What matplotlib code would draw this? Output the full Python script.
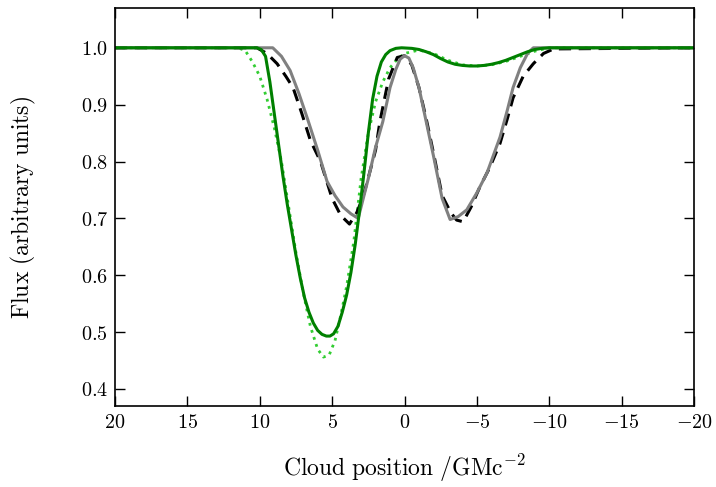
import numpy as np
import matplotlib
matplotlib.use("Agg")
import matplotlib.pyplot as plt
from matplotlib.ticker import FuncFormatter

plt.rcParams['font.family'] = 'serif'
plt.rcParams['mathtext.fontset'] = 'cm'

# solid green curve
x_green = [20, 10.2, 9.9, 9.6, 9.3, 9.0, 8.7, 8.4, 8.1, 7.8, 7.5, 7.2, 6.9, 6.6, 6.3, 6.0,
           5.7, 5.4, 5.15, 4.9, 4.6, 4.3, 4.0, 3.7, 3.4, 3.1, 2.8, 2.5, 2.2, 1.9, 1.6, 1.3,
           1.0, 0.6, 0.2, -0.5, -1.0, -1.5, -2.0, -2.5, -3.0, -3.5, -4.0, -4.5, -5.0, -5.5,
           -6.0, -6.5, -7.0, -7.5, -8.0, -8.5, -9.0, -9.5, -10.0, -20]
y_green = [1.0, 1.0, 0.997, 0.985, 0.94, 0.885, 0.83, 0.775, 0.725, 0.68, 0.635, 0.595,
           0.56, 0.535, 0.516, 0.503, 0.496, 0.493, 0.493, 0.497, 0.51, 0.535, 0.565, 0.605,
           0.655, 0.715, 0.78, 0.85, 0.91, 0.95, 0.975, 0.988, 0.995, 0.999, 1.0, 0.999,
           0.997, 0.993, 0.988, 0.981, 0.975, 0.971, 0.969, 0.968, 0.968, 0.969, 0.971,
           0.974, 0.978, 0.983, 0.988, 0.993, 0.997, 0.999, 1.0, 1.0]

# dotted light green curve
x_dot = [20, 11.5, 11, 10.5, 10, 9.5, 9, 8.5, 8, 7.5, 7, 6.5, 6, 5.6, 5.2, 4.8, 4.4, 4, 3.5,
         3, 2.5, 2, 1.5, 1, 0.5, 0, -1, -2, -3, -4, -5, -6, -7, -8, -9, -10, -20]
y_dot = [1.0, 1.0, 0.995, 0.975, 0.95, 0.91, 0.86, 0.80, 0.72, 0.64, 0.57, 0.51, 0.47, 0.456,
         0.46, 0.485, 0.53, 0.58, 0.66, 0.77, 0.85, 0.905, 0.94, 0.965, 0.98, 0.99, 0.996, 0.99,
         0.978, 0.970, 0.968, 0.970, 0.976, 0.985, 0.994, 1.0, 1.0]

# grey solid curve
x_grey = [20, 9.1, 8.5, 7.9, 7.3, 6.7, 6.0, 5.35, 4.8, 4.25, 3.7, 3.2, 2.85, 2.5, 2.0, 1.5,
          1.0, 0.6, 0.3, 0, -0.3, -0.6, -1.0, -1.5, -2.0, -2.6, -3.15, -3.7, -4.3, -5.0,
          -5.7, -6.6, -7.1, -7.5, -8.0, -8.5, -8.9, -20]
y_grey = [1.0, 1.0, 0.985, 0.96, 0.92, 0.875, 0.82, 0.765, 0.74, 0.72, 0.708, 0.70, 0.735,
          0.77, 0.825, 0.87, 0.93, 0.962, 0.98, 0.986, 0.982, 0.965, 0.93, 0.87, 0.81, 0.735,
          0.698, 0.703, 0.715, 0.745, 0.78, 0.843, 0.89, 0.93, 0.965, 0.99, 1.0, 1.0]

# black dashed curve
x_dash = [20, 10.2, 9.5, 8.8, 8.2, 7.7, 7.1, 6.5, 5.8, 5.0, 4.4, 3.8, 3.3, 2.9, 2.6, 2.0,
          1.7, 1.1, 0.5, 0, -0.5, -1.0, -1.5, -2.0, -2.6, -3.2, -3.6, -4.05, -4.6, -5.2,
          -5.9, -6.6, -7.1, -7.5, -8.2, -8.9, -9.6, -10.3, -20]
y_dash = [1.0, 1.0, 0.99, 0.972, 0.95, 0.93, 0.885, 0.837, 0.80, 0.735, 0.705, 0.69, 0.71,
          0.735, 0.762, 0.82, 0.87, 0.945, 0.983, 0.986, 0.97, 0.93, 0.875, 0.815, 0.74,
          0.71, 0.697, 0.694, 0.72, 0.755, 0.79, 0.832, 0.875, 0.912, 0.95, 0.972, 0.99,
          0.998, 1.0]

fig = plt.figure(figsize=(7.16, 4.87), dpi=100)
ax = fig.add_axes([0.1606, 0.1663, 0.8087, 0.8173])

ax.plot(x_dot, y_dot, color='limegreen', ls=':', lw=2)
ax.plot(x_dash, y_dash, color='k', ls='--', lw=2.2, dashes=(4, 2.5))
ax.plot(x_grey, y_grey, color='grey', lw=2.2)
ax.plot(x_green, y_green, color='green', lw=2.2)

ax.set_xlim(20, -20)
ax.set_ylim(0.37, 1.07)
ax.set_xticks(np.arange(20, -21, -5))
ax.set_yticks(np.arange(0.4, 1.01, 0.1))

ax.xaxis.set_major_formatter(FuncFormatter(lambda v, p: r'$%d$' % round(v)))
ax.yaxis.set_major_formatter(FuncFormatter(lambda v, p: r'$%.1f$' % v))

ax.tick_params(direction='in', top=True, right=True, length=7, width=1, labelsize=14.5, pad=5)
for s in ax.spines.values():
    s.set_linewidth(1.2)

ax.set_xlabel(r'$\mathrm{Cloud\ position\ /GMc^{-2}}$', fontsize=17, labelpad=15)
ax.set_ylabel(r'$\mathrm{Flux\ (arbitrary\ units)}$', fontsize=17, labelpad=31)

fig.savefig('out.png', dpi=100)
